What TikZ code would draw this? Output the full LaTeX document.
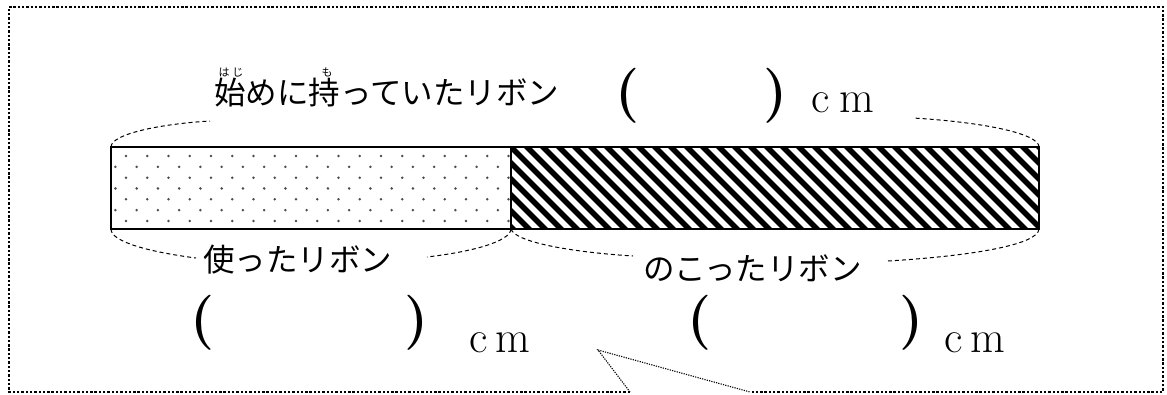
\documentclass[tikz,border=0pt]{standalone}
\usepackage{fontspec}
\newfontfamily\jpf{Noto Sans CJK JP}
\begin{document}
\begin{tikzpicture}[x=1pt,y=-1pt,
  jplabel/.style={font=\jpf\fontsize{31.5}{32}\selectfont, inner sep=0pt, anchor=base west},
  rubytext/.style={font=\jpf\fontsize{11}{11}\selectfont, inner sep=0pt, anchor=base},
  paren/.style={font=\fontsize{55}{56}\selectfont\bfseries, inner sep=0pt, anchor=base},
  unit/.style={font=\fontsize{45}{46}\selectfont, inner sep=0pt, anchor=base west},
  brace/.style={line width=1pt, dash pattern=on 4pt off 3pt},
  frameline/.style={line width=2.2pt, dash pattern=on 2.4pt off 1.9pt},
  tailline/.style={line width=1.1pt, dash pattern=on 1.2pt off 1.2pt},
  barline/.style={line width=2pt}]
\useasboundingbox (0,0) rectangle (1167,394);
\fill[white] (0,0) rectangle (1167,394);

% bar corners
\coordinate (barTL) at (111,147);
\coordinate (barTR) at (1039,147);
\coordinate (barBL) at (111,229);
\coordinate (barBR) at (1039,229);
\coordinate (midT) at (511,147);
\coordinate (midB) at (511,229);

% dotted part
\begin{scope}
  \clip (barTL) rectangle (midB);
  \foreach \r in {0,...,6}{
    \foreach \c in {0,...,19}{
      \fill[black!70] ({126-10.6*mod(\r,2)+21.25*\c},{156+10.83*\r}) circle[radius=1.4pt];
    }
  }
\end{scope}

% hatched part
\begin{scope}
  \clip (midT) rectangle (barBR);
  \foreach \k in {-7,...,34}{
    \draw[line width=5.5pt] ({501+16*\k},137) -- ++(102,102);
  }
\end{scope}

\draw[barline] (barTL) rectangle (barBR);
\draw[barline] (midT) -- (midB);

% brace ends
\coordinate (tbL) at (210,121);
\coordinate (tbR) at (913,118);
\coordinate (blL) at (196,258);
\coordinate (blR) at (427,257);
\coordinate (brL) at (633,256);
\coordinate (brR) at (888,261);

\draw[brace] (barTL) .. controls (111,134) and (160,124) .. (tbL);
\draw[brace] (barTR) .. controls (1039,133) and (980,122) .. (tbR);
\draw[brace] (barBL) .. controls (111,242) and (150,252) .. (blL);
\draw[brace] (midB) .. controls (510,242) and (470,252) .. (blR);
\draw[brace] (midB) .. controls (515,242) and (570,252) .. (brL);
\draw[brace] (barBR) .. controls (1038,245) and (970,256) .. (brR);

% texts
\node[jplabel] (toplabel) at (214,104) {始めに持っていたリボン};
\node[rubytext] (rubyhaji) at (231,76) {は\hspace{3pt}じ};
\node[rubytext] (rubymo) at (327,76) {も};
\node[paren] (tpl) at (628,109) {(};
\node[paren] (tpr) at (776,109) {)};
\node[unit] (tunit) at (811,112) {c\hspace{10pt}m};

\node[jplabel] (usedlabel) at (203,271) {使ったリボン};
\node[jplabel] (restlabel) at (643,280) {のこったリボン};

\node[paren] (bpl1) at (203,336) {(};
\node[paren] (bpr1) at (417,336) {)};
\node[unit] (bunit1) at (469,352) {c\hspace{8pt}m};
\node[paren] (bpl2) at (700,336) {(};
\node[paren] (bpr2) at (912,336) {)};
\node[unit] (bunit2) at (944,352) {c\hspace{8pt}m};

% frame with callout tail
\coordinate (tailA) at (630,392);
\coordinate (tailTip) at (598,350);
\coordinate (tailB) at (750,392);
\draw[frameline] (tailA) -- (9,392) -- (9,7) -- (1163,7) -- (1163,392) -- (tailB);
\draw[tailline] (tailA) -- (tailTip) -- (tailB);
\end{tikzpicture}
\end{document}
